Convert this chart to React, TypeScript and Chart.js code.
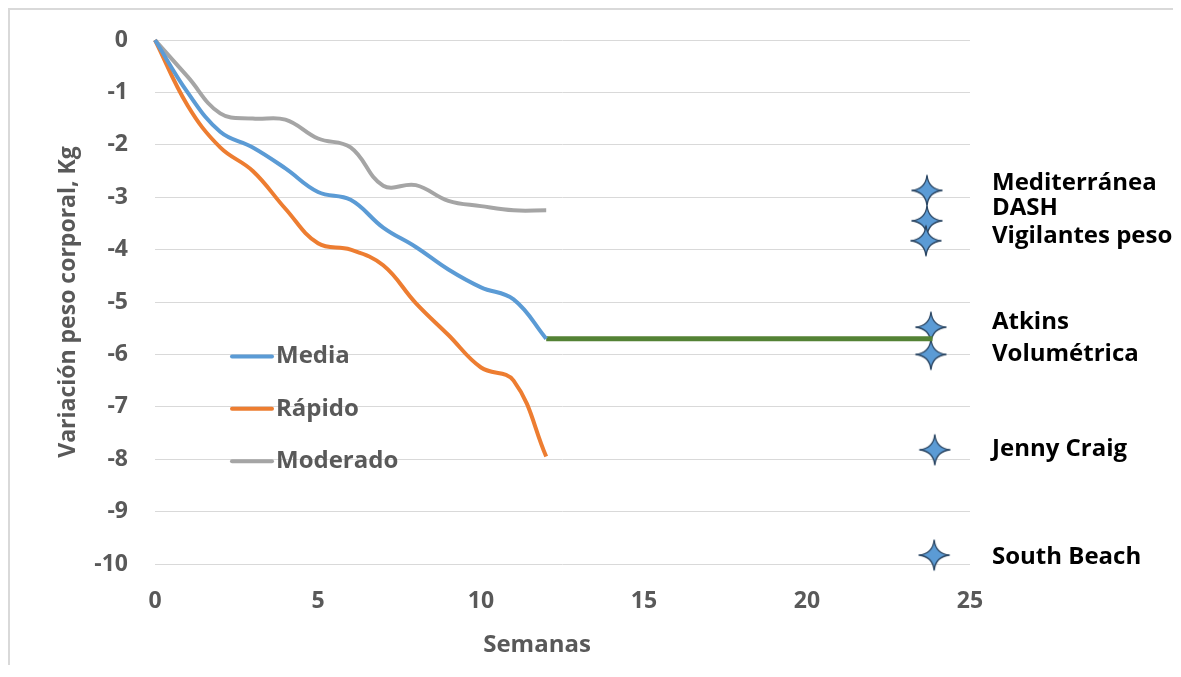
import React, { useEffect, useRef } from "react";
import { Chart, registerables } from "chart.js";

Chart.register(...registerables);

const weeks = [0, 1, 2, 3, 4, 5, 6, 7, 8, 9, 10, 11, 12];
const media = [0, -1.0, -1.75, -2.05, -2.45, -2.9, -3.05, -3.58, -3.95, -4.38, -4.72, -4.95, -5.7];
const rapido = [0, -1.25, -2.05, -2.5, -3.22, -3.88, -4.0, -4.3, -5.02, -5.63, -6.25, -6.5, -7.95];
const moderado = [0, -0.7, -1.4, -1.5, -1.52, -1.88, -2.05, -2.78, -2.77, -3.07, -3.17, -3.25, -3.25];

const mediaProjX = [12, 23.85];
const mediaProjY = [-5.7, -5.7];

const dietNames = ["Mediterránea", "DASH", "Vigilantes peso", "Atkins", "Volumétrica", "Jenny Craig", "South Beach"];
const dietX = [23.68, 23.68, 23.65, 23.8, 23.8, 23.92, 23.9];
const dietY = [-2.87, -3.45, -3.83, -5.48, -6.0, -7.82, -9.83];
const dietLabelY = [-2.74, -3.2, -3.75, -5.38, -6.0, -7.8, -9.87];

const legendNames = ["Media", "Rápido", "Moderado"];
const legendColors = ["#5B9BD5", "#ED7D31", "#A5A5A5"];

const yTicks = { min: -10, max: 0, step: 1 };
const xTicks = { min: 0, max: 25, step: 5 };

const FONT = "'Open Sans', 'Liberation Sans', sans-serif";
const GRAY_TEXT = "#595959";

function makeStar(size: number): HTMLCanvasElement {
  const c = document.createElement("canvas");
  c.width = size;
  c.height = size;
  const ctx = c.getContext("2d")!;
  const cx = size / 2;
  const cy = size / 2;
  const R = size / 2 - 1.5;
  const r = R * 0.12;
  ctx.beginPath();
  for (let i = 0; i < 4; i++) {
    const a0 = -Math.PI / 2 + (i * Math.PI) / 2;
    const a1 = a0 + Math.PI / 2;
    const am = a0 + Math.PI / 4;
    const p0x = cx + Math.cos(a0) * R;
    const p0y = cy + Math.sin(a0) * R;
    const p1x = cx + Math.cos(a1) * R;
    const p1y = cy + Math.sin(a1) * R;
    const qx = cx + Math.cos(am) * r;
    const qy = cy + Math.sin(am) * r;
    if (i === 0) ctx.moveTo(p0x, p0y);
    ctx.quadraticCurveTo(qx, qy, p1x, p1y);
  }
  ctx.closePath();
  ctx.fillStyle = "#5B9BD5";
  ctx.fill();
  ctx.lineWidth = 1.3;
  ctx.strokeStyle = "#2A4562";
  ctx.stroke();
  return c;
}

export default function App() {
  const ref = useRef<HTMLCanvasElement | null>(null);

  useEffect(() => {
    if (!ref.current) return;
    document.body.style.overflow = "hidden";
    document.documentElement.style.overflow = "hidden";
    const star = makeStar(34);

    const overlay = {
      id: "overlay",
      afterDraw(chart: any) {
        const ctx = chart.ctx;
        const xs = chart.scales.x;
        const ys = chart.scales.y;
        const area = chart.chartArea;
        ctx.save();
        // axis titles
        ctx.fillStyle = GRAY_TEXT;
        ctx.font = `bold 24px ${FONT}`;
        ctx.textAlign = "center";
        ctx.textBaseline = "middle";
        ctx.fillText("Semanas", 527, 635);
        ctx.save();
        ctx.font = `bold 23px ${FONT}`;
        ctx.translate(58, (area.top + area.bottom) / 2);
        ctx.rotate(-Math.PI / 2);
        ctx.fillText("Variación peso corporal, Kg", 0, 0);
        ctx.restore();

        // legend
        const legY = [-6, -7, -8];
        legendNames.forEach((name, i) => {
          const y = ys.getPixelForValue(legY[i]) + 2;
          ctx.strokeStyle = legendColors[i];
          ctx.lineWidth = 4;
          ctx.lineCap = "round";
          ctx.beginPath();
          ctx.moveTo(area.left + 77, y);
          ctx.lineTo(area.left + 117, y);
          ctx.stroke();
          ctx.fillStyle = GRAY_TEXT;
          ctx.font = `bold 24px ${FONT}`;
          ctx.textAlign = "left";
          ctx.textBaseline = "middle";
          ctx.fillText(name, area.left + 121, y);
        });

        // diet labels
        ctx.fillStyle = "#000000";
        ctx.font = `bold 24px ${FONT}`;
        ctx.textAlign = "left";
        ctx.textBaseline = "middle";
        const lx = xs.getPixelForValue(xTicks.max) + 22;
        dietNames.forEach((name, i) => {
          ctx.fillText(name, lx, ys.getPixelForValue(dietLabelY[i]));
        });
        ctx.restore();
      },
    };

    const chart = new Chart(ref.current, {
      type: "scatter",
      data: {
        datasets: [
          {
            label: "Media",
            type: "line",
            data: weeks.map((w, i) => ({ x: w, y: media[i] })),
            borderColor: "#5B9BD5",
            borderWidth: 4,
            pointRadius: 0,
            tension: 0.4,
            fill: false,
            clip: 10,
          } as any,
          {
            label: "Rápido",
            type: "line",
            data: weeks.map((w, i) => ({ x: w, y: rapido[i] })),
            borderColor: "#ED7D31",
            borderWidth: 4,
            pointRadius: 0,
            tension: 0.4,
            fill: false,
            clip: 10,
          } as any,
          {
            label: "Moderado",
            type: "line",
            data: weeks.map((w, i) => ({ x: w, y: moderado[i] })),
            borderColor: "#A5A5A5",
            borderWidth: 4,
            pointRadius: 0,
            tension: 0.4,
            fill: false,
            clip: 10,
          } as any,
          {
            label: "Proyección",
            type: "line",
            data: mediaProjX.map((x, i) => ({ x, y: mediaProjY[i] })),
            borderColor: "#548235",
            borderWidth: 5,
            pointRadius: 0,
            tension: 0,
            fill: false,
            clip: 10,
          } as any,
          {
            label: "Dietas",
            data: dietX.map((x, i) => ({ x, y: dietY[i] })),
            pointStyle: star,
            pointRadius: 17,
            clip: 20,
          } as any,
        ],
      },
      options: {
        animation: false,
        responsive: true,
        maintainAspectRatio: false,
        layout: { padding: { top: 30, right: 203, left: 0, bottom: 0 } },
        plugins: {
          legend: { display: false },
          tooltip: { enabled: false },
          title: { display: false },
        },
        scales: {
          x: {
            type: "linear",
            min: xTicks.min,
            max: xTicks.max,
            grid: { display: false, drawTicks: false },
            border: { display: false },
            ticks: {
              stepSize: xTicks.step,
              padding: 24,
              color: GRAY_TEXT,
              font: { family: FONT, size: 23, weight: "bold" },
            },
            afterFit: (s: any) => {
              s.height = 101;
              s.paddingLeft = 0;
              s.paddingRight = 0;
            },
          },
          y: {
            type: "linear",
            min: yTicks.min,
            max: yTicks.max,
            grid: { color: "#D9D9D9", lineWidth: 1, drawTicks: false },
            border: { display: false },
            ticks: {
              stepSize: yTicks.step,
              padding: 27,
              color: GRAY_TEXT,
              font: { family: FONT, size: 23, weight: "bold" },
            },
            afterFit: (s: any) => {
              s.width = 145;
              s.paddingTop = 0;
              s.paddingBottom = 0;
            },
          },
        },
      },
      plugins: [overlay],
    });
    return () => chart.destroy();
  }, []);

  return (
    <div
      style={{
        paddingTop: 0,
        borderTop: "2px solid #D9D9D9",
        borderLeft: "2px solid #D9D9D9",
        width: 1200,
        height: 655,
        position: "relative",
      }}
    >
      <div style={{ width: 1163, height: 655, position: "relative" }}>
        <canvas ref={ref} />
      </div>
    </div>
  );
}
